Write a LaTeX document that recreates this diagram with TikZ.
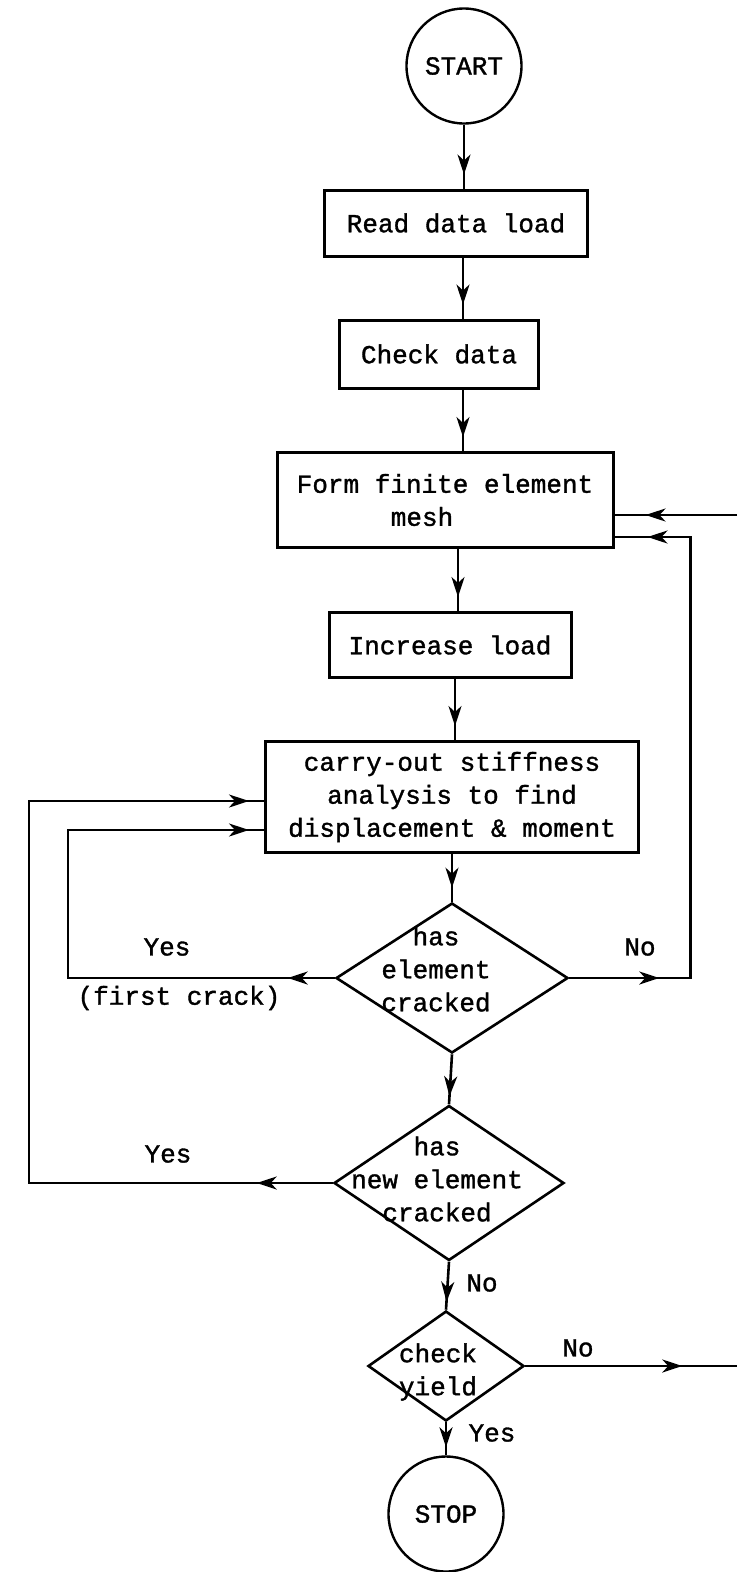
\documentclass[tikz,border=0pt]{standalone}
\usepackage{fontspec}
\newfontfamily\typed{Liberation Mono}[FakeBold=1.3]
\usetikzlibrary{arrows.meta,shapes.geometric,decorations.markings}

\begin{document}
\begin{tikzpicture}[x=1pt, y=-1pt,
  every node/.style={font=\typed\fontsize{26}{33}\selectfont},
  stepbox/.style={draw, line width=3pt, inner sep=0pt, minimum width=#1},
  terminal/.style={draw, circle, line width=2.4pt, minimum size=115pt, inner sep=0pt},
  decision/.style={draw, diamond, line width=2.6pt, inner sep=0pt},
  flowline/.style={line width=2.6pt},
  tipat/.style={postaction={decorate, decoration={markings,
      mark=at position #1 with {\arrow{Stealth[length=20pt,width=13pt,inset=6pt]}}}}}
]
\fill[white] (0,0) rectangle (737,1572);
\useasboundingbox (0,0) rectangle (737,1572);

\node[terminal] (start) at (464,66) {START};
\node[stepbox=263pt, minimum height=66pt] (read) at (456,223) {Read data load};
\node[stepbox=199pt, minimum height=68pt] (check) at (439,354) {Check data};
\node[stepbox=336pt, minimum height=95pt, align=left] (mesh) at (445,500) {Form finite element\\\hspace*{94pt}mesh};
\node[stepbox=242pt, minimum height=65pt] (load) at (450,645) {Increase load};
\node[stepbox=373pt, minimum height=111pt, align=center] (stiff) at (452,797)
  {carry-out stiffness\\analysis to find\\displacement \& moment};
\node[decision, minimum width=232pt, minimum height=150pt,
  label={[align=center, xshift=-16pt, yshift=9pt]center:has\\element\\cracked}] (crack) at (452,978) {};
\node[decision, minimum width=230pt, minimum height=155pt,
  label={[align=center, xshift=-12pt, yshift=4pt]center:has\\new element\\cracked}] (newcrack) at (449,1183) {};
\node[decision, minimum width=156pt, minimum height=110pt,
  label={[align=center, xshift=-8pt, yshift=-6pt]center:check\\yield}] (yield) at (446,1366) {};
\node[terminal] (stop) at (446,1514) {STOP};

% branch labels
\node (yes1) at (167,947) {Yes};
\node (first) at (179,998) {(first crack)};
\node (no1) at (640,947) {No};
\node (yes2) at (168,1154) {Yes};
\node (no2) at (482,1283) {No};
\node (no3) at (578,1348) {No};
\node (yes3) at (492,1433) {Yes};

% main line
\foreach \from/\to/\dx in {start/read/0, read/check/7, check/mesh/24, mesh/load/13, load/stiff/5, stiff/crack/0}
  \draw[flowline, tipat=-14pt] ([xshift=\dx pt]\from.south) -- ([xshift=\dx pt]\from.south |- \to.north);
\foreach \from/\to in {crack/newcrack, newcrack/yield, yield/stop}
  \draw[flowline, tipat=-8pt] (\from.south) -- (\to.north);

% loops back
\draw[flowline, tipat=47pt, tipat=-15pt] (crack.west) -| ([xshift=-196pt,yshift=-33pt]stiff.west) -- ([yshift=-33pt]stiff.west);
\draw[flowline, tipat=76pt, tipat=-15pt] (newcrack.west) -| ([xshift=-235pt,yshift=-4pt]stiff.west) -- ([yshift=-4pt]stiff.west);
\draw[flowline, tipat=90pt, tipat=-33pt] (crack.east) -| ([xshift=76pt,yshift=-37pt]mesh.east) -- ([yshift=-37pt]mesh.east);

% off the page
\coordinate (fromright) at (737,515);
\coordinate (toright) at (737,1366);
\draw[flowline, tipat=-31pt] (fromright) -- (fromright -| mesh.east);
\draw[flowline, tipat=157pt] (yield.east) -- (toright);
\end{tikzpicture}
\end{document}
